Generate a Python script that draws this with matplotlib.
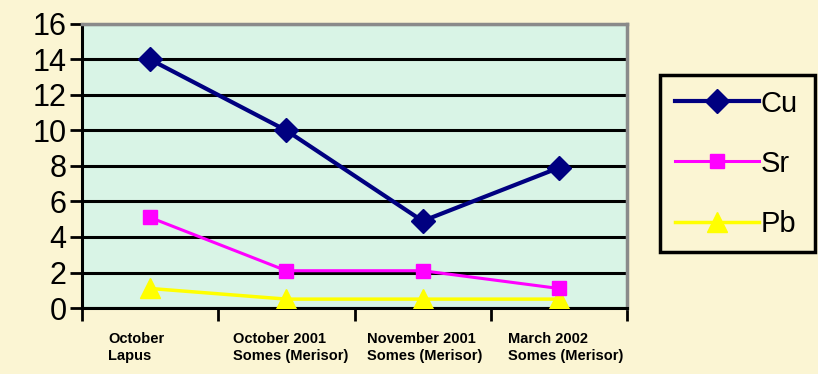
import matplotlib.pyplot as plt

# data
categories = ['October\nLapus', 'October 2001\nSomes (Merisor)',
              'November 2001\nSomes (Merisor)', 'March 2002\nSomes (Merisor)']
cu = [14, 10, 4.9, 7.9]
sr = [5.1, 2.1, 2.1, 1.1]
pb = [1.1, 0.5, 0.5, 0.5]

bg = '#FBF5D3'
plot_bg = '#D9F4E6'

plt.rcParams['font.family'] = ['Liberation Sans', 'DejaVu Sans']

fig = plt.figure(figsize=(8.18, 3.74), dpi=100, facecolor=bg)
ax = fig.add_axes([82/818, 66/374, 545/818, 284/374], facecolor=plot_bg)

x = range(len(categories))
ax.plot(x, cu, color='#000080', lw=3, marker='D', ms=12, label='Cu', zorder=5)
ax.plot(x, sr, color='#FF00FF', lw=2.2, marker='s', ms=10, label='Sr', zorder=4)
ax.plot(x, pb, color='#FFFF00', lw=2.5, marker='^', ms=14, label='Pb', zorder=3)

ax.set_xlim(-0.5, 3.5)
ax.set_ylim(0, 16)
ax.set_yticks(range(0, 17, 2))
ax.tick_params(axis='y', labelsize=22, length=9, width=2, pad=2, direction='out')
ax.yaxis.grid(True, color='black', lw=2.2)
ax.set_axisbelow(True)

ax.set_xticks([-0.5, 0.5, 1.5, 2.5, 3.5])
ax.set_xticklabels([])
ax.tick_params(axis='x', length=9, width=2, direction='out')

for s in ['left', 'bottom']:
    ax.spines[s].set_linewidth(2.2)
    ax.spines[s].set_color('black')
for s in ['top', 'right']:
    ax.spines[s].set_linewidth(2.5)
    ax.spines[s].set_color('#8a8a8a')

# category labels, left aligned under each slot
label_x = [-0.31, 0.61, 1.59, 2.63]
for lx, lab in zip(label_x, categories):
    ax.text(lx, -1.35, lab, ha='left', va='top', fontsize=10.5,
            fontweight='bold', linespacing=1.25,
            family=['Liberation Sans Narrow', 'Liberation Sans', 'DejaVu Sans'],
            transform=ax.transData, clip_on=False)

leg = fig.legend(loc='upper left', bbox_to_anchor=(660/818, 0, 155/818, 299/374),
                 mode='expand', fontsize=21, frameon=True, fancybox=False,
                 edgecolor='black', facecolor=bg, framealpha=1,
                 handlelength=2.9, handletextpad=0.05, labelspacing=1.1,
                 borderpad=0.5, borderaxespad=0)
leg.get_frame().set_linewidth(2.5)

fig.savefig('out.png', dpi=100, facecolor=bg)
